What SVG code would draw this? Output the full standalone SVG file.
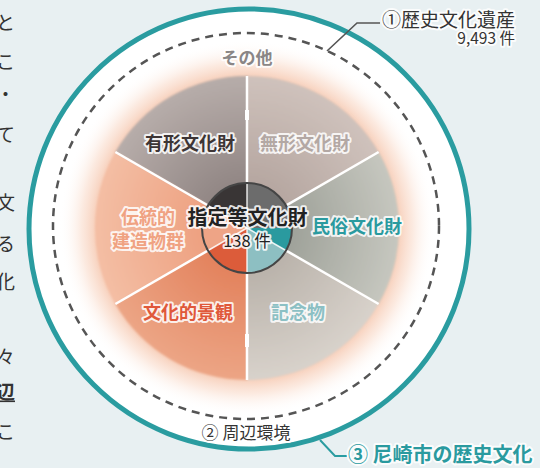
<svg xmlns="http://www.w3.org/2000/svg" width="559" height="468" viewBox="0 0 559 468">
<defs>
<style>
.jp{font-family:"Noto Sans CJK JP","Noto Sans",sans-serif;}
.halo{stroke:#fff;stroke-width:4;stroke-linejoin:round;paint-order:stroke;stroke-opacity:0.85;}
.lab{font-size:18px;font-weight:700;text-anchor:middle;}
.div{stroke:#fff;stroke-width:2.5;fill:none;}
</style>
<radialGradient id="glow" cx="247" cy="228" r="188" gradientUnits="userSpaceOnUse">
<stop offset="0.78" stop-color="#f4bea2" stop-opacity="0.9"/>
<stop offset="0.88" stop-color="#f9d8c6" stop-opacity="0.55"/>
<stop offset="1" stop-color="#ffffff" stop-opacity="0"/>
</radialGradient>
<radialGradient id="g1" cx="247" cy="228" r="152" gradientUnits="userSpaceOnUse">
<stop offset="0.3" stop-color="#928785"/><stop offset="1" stop-color="#b7adaa"/></radialGradient>
<radialGradient id="g2" cx="247" cy="228" r="152" gradientUnits="userSpaceOnUse">
<stop offset="0.3" stop-color="#b6a7a1"/><stop offset="1" stop-color="#cfc2bc"/></radialGradient>
<radialGradient id="g3" cx="247" cy="228" r="152" gradientUnits="userSpaceOnUse">
<stop offset="0.3" stop-color="#9fa29a"/><stop offset="1" stop-color="#c6c7bf"/></radialGradient>
<radialGradient id="g4" cx="247" cy="228" r="152" gradientUnits="userSpaceOnUse">
<stop offset="0.3" stop-color="#bab3ab"/><stop offset="1" stop-color="#d8d2cb"/></radialGradient>
<radialGradient id="g5" cx="247" cy="228" r="152" gradientUnits="userSpaceOnUse">
<stop offset="0.3" stop-color="#e3835e"/><stop offset="1" stop-color="#eca585"/></radialGradient>
<radialGradient id="g6" cx="247" cy="228" r="152" gradientUnits="userSpaceOnUse">
<stop offset="0.3" stop-color="#eea181"/><stop offset="1" stop-color="#f4bea4"/></radialGradient>
<filter id="soft" x="-10%" y="-10%" width="120%" height="120%"><feGaussianBlur stdDeviation="1.2"/></filter>
</defs>

<rect x="0" y="0" width="540" height="468" fill="#e8f0f2"/>
<rect x="540" y="0" width="19" height="468" fill="#ffffff"/>

<g id="body-text" class="jp" font-size="19" fill="#333">
<text x="-4" y="30">と</text>
<text x="-4" y="69">こ</text>
<text x="-4" y="102">・</text>
<text x="-4" y="142">て</text>
<text x="-4" y="210">文</text>
<text x="-4" y="251">る</text>
<text x="-4" y="289">化</text>
<text x="-4" y="364">々</text>
<text x="-4" y="399" font-weight="700">辺</text>
<rect x="0" y="400.5" width="15" height="1.6" fill="#333"/>
<text x="-4" y="439">こ</text>
</g>

<g id="node-rekishi-bunka">
<circle cx="249" cy="229" r="220" fill="#ffffff" stroke="#2a9ca0" stroke-width="5"/>
</g>

<g id="node-shuhen">
<circle cx="247" cy="228" r="188" fill="url(#glow)"/>
<circle cx="246" cy="226" r="193" fill="none" stroke="#555" stroke-width="2.5" stroke-dasharray="8 6"/>
</g>

<g id="sectors" filter="url(#soft)">
<path id="node-yukei" d="M247,228 L247,76 A152,152 0 0 0 115.36,152 Z" fill="url(#g1)"/>
<path id="node-dentoteki" d="M247,228 L115.36,152 A152,152 0 0 0 115.36,304 Z" fill="url(#g6)"/>
<path id="node-keikan" d="M247,228 L115.36,304 A152,152 0 0 0 247,380 Z" fill="url(#g5)"/>
<path id="node-kinenbutsu" d="M247,228 L247,380 A152,152 0 0 0 378.64,304 Z" fill="url(#g4)"/>
<path id="node-minzoku" d="M247,228 L378.64,304 A152,152 0 0 0 378.64,152 Z" fill="url(#g3)"/>
<path id="node-mukei" d="M247,228 L378.64,152 A152,152 0 0 0 247,76 Z" fill="url(#g2)"/>
</g>

<g id="dividers" class="div">
<line x1="247" y1="76" x2="247" y2="380"/>
<line x1="247" y1="228" x2="115.36" y2="152"/>
<line x1="247" y1="228" x2="115.36" y2="304"/>
<line x1="247" y1="228" x2="378.64" y2="152"/>
<line x1="247" y1="228" x2="378.64" y2="304"/>
<rect x="245" y="110" width="4" height="10" fill="#fff" stroke="none"/>
<rect x="245" y="334" width="4" height="13" fill="#fff" stroke="none"/>
</g>

<g id="node-shitei">
<path d="M247,228 L247,183 A45,45 0 0 0 208.03,205.5 Z" fill="#393535"/>
<path d="M247,228 L208.03,205.5 A45,45 0 0 0 208.03,250.5 Z" fill="#eea486"/>
<path d="M247,228 L208.03,250.5 A45,45 0 0 0 247,273 Z" fill="#dc5c3a"/>
<path d="M247,228 L247,273 A45,45 0 0 0 285.97,250.5 Z" fill="#8dbfc2"/>
<path d="M247,228 L285.97,250.5 A45,45 0 0 0 292,228 Z" fill="#2a9a9f"/>
<path d="M247,228 L292,228 A45,45 0 0 0 247,183 Z" fill="#6c6c6c"/>
<g stroke="#fff" stroke-width="1.5" stroke-opacity="0.85">
<line x1="247" y1="228" x2="247" y2="183"/>
<line x1="247" y1="228" x2="247" y2="273"/>
<line x1="247" y1="228" x2="208.03" y2="205.5"/>
<line x1="247" y1="228" x2="208.03" y2="250.5"/>
<line x1="247" y1="228" x2="285.97" y2="250.5"/>
</g>
<circle cx="247" cy="228" r="45" fill="none" stroke="#454545" stroke-width="2"/>
<text class="jp halo" x="247.5" y="225" font-size="20" font-weight="700" fill="#222" text-anchor="middle">指定等文化財</text>
<text class="jp halo" x="247" y="247" font-size="16.5" fill="#222" text-anchor="middle">138 件</text>
</g>

<g id="connectors" fill="none">
<polyline points="327,51 357,23 380,23" stroke="#555" stroke-width="1.6"/>
<polyline points="320,440 335,456 347,456" stroke="#2a9ca0" stroke-width="2"/>
</g>

<g id="labels" class="jp">
<text class="halo" x="247" y="63.5" font-size="17" font-weight="700" fill="#8a8686" text-anchor="middle">その他</text>
<text class="halo lab" x="190" y="150" fill="#3d3535">有形文化財</text>
<text class="halo lab" x="305" y="150" fill="#b3a8a4">無形文化財</text>
<text class="halo lab" x="357" y="233" fill="#2a9a9f">民俗文化財</text>
<text class="halo lab" x="298" y="319" fill="#8cc0c4">記念物</text>
<text class="halo lab" x="188" y="319" fill="#e0583a">文化的景観</text>
<text class="halo lab" x="148" y="223.5" fill="#f0a282" font-weight="500">伝統的</text>
<text class="halo lab" x="148" y="247.5" fill="#f0a282" font-weight="500">建造物群</text>
<text class="halo" x="246" y="438.5" font-size="17" fill="#333" text-anchor="middle">② 周辺環境</text>
<text class="halo" x="515" y="26.5" font-size="19" fill="#333" text-anchor="end">①歴史文化遺産</text>
<text class="halo" x="515" y="44" font-size="15.5" fill="#333" text-anchor="end">9,493 件</text>
<text class="halo" x="348" y="462" font-size="20" font-weight="700" fill="#2a9a9f">③ 尼崎市の歴史文化</text>
</g>
</svg>
